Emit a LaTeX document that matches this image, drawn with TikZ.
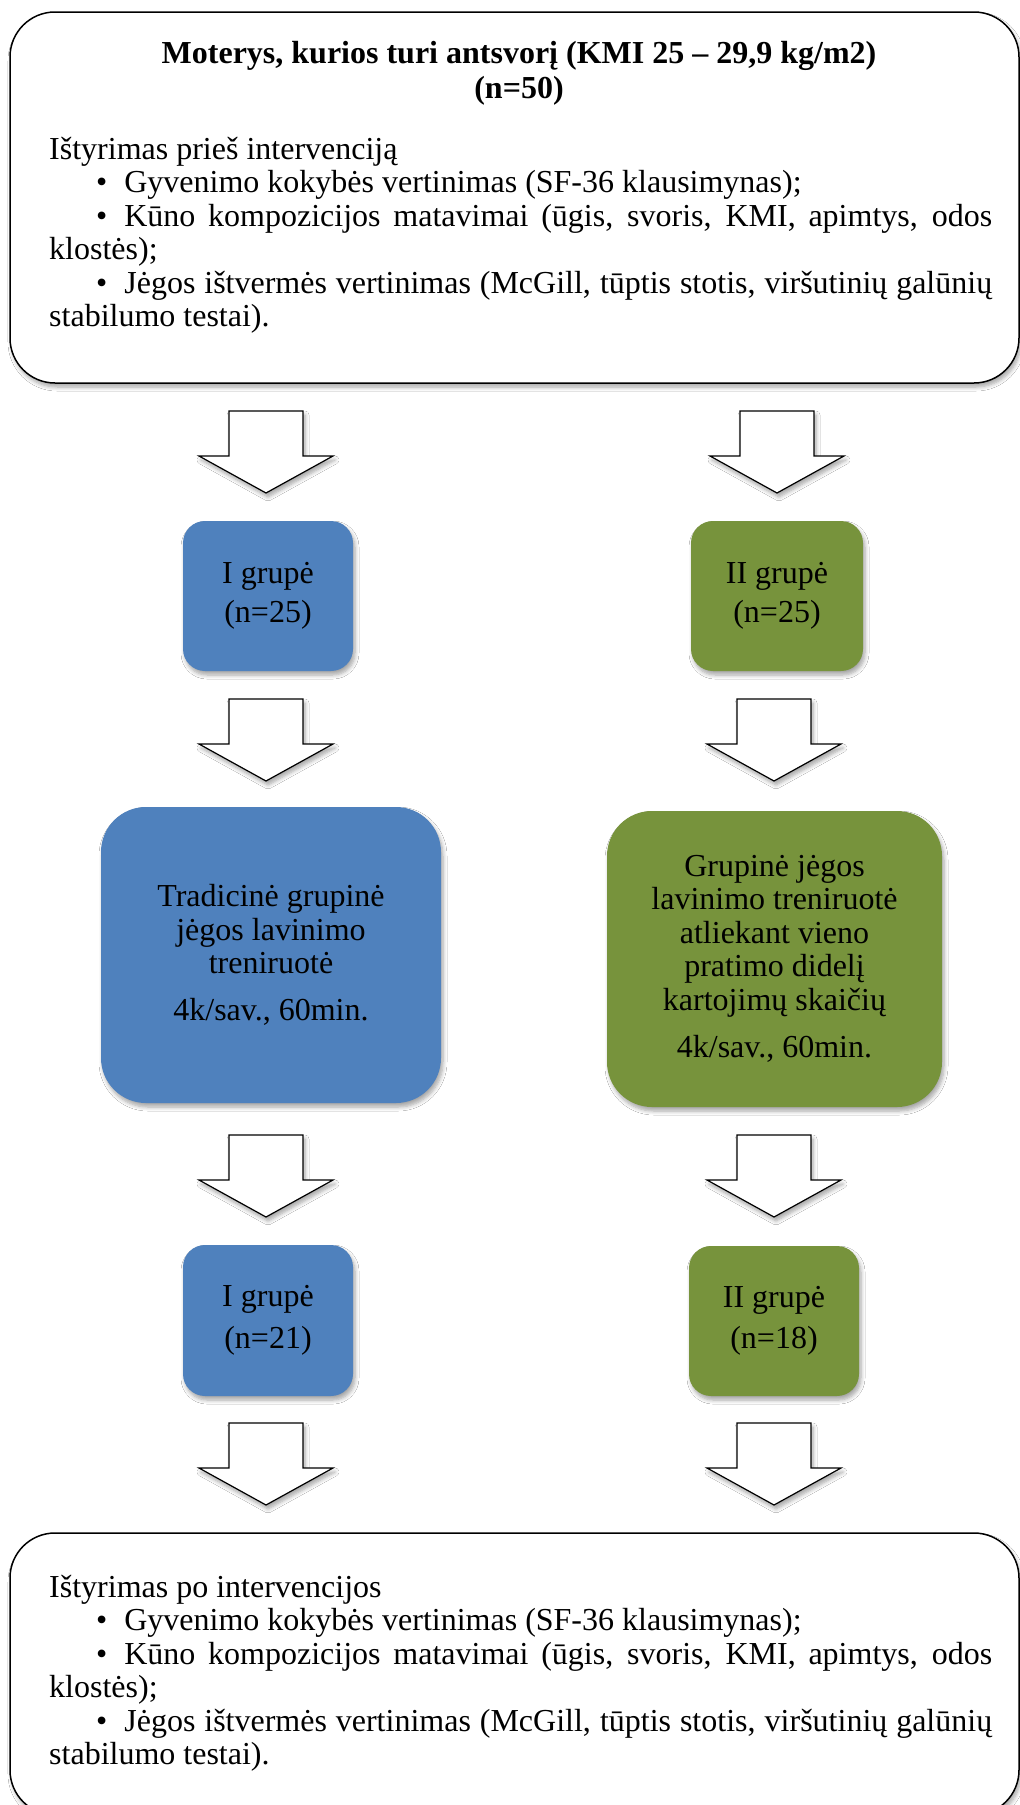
\documentclass[tikz,border=0pt]{standalone}
\usepackage{fontspec}
\setmainfont{Liberation Serif}
\usepackage{xcolor}
\usetikzlibrary{shadows.blur}
\definecolor{grpblue}{RGB}{79,129,189}
\definecolor{grpgreen}{RGB}{119,147,60}
\setlength{\parindent}{0pt}
\hyphenpenalty=10000
\newcommand{\bul}{\hspace*{47pt}\textbullet\hspace{17pt}}

\begin{document}
\begin{tikzpicture}[x=1pt,y=-1pt]
        \tikzset{every node/.style={font=\fontsize{32}{33.5}\selectfont, inner sep=0pt},
            softshadow/.style={blur shadow={shadow xshift=2pt, shadow yshift=-4pt,
                shadow blur radius=4pt, shadow blur steps=6, shadow opacity=35}},
            bigbox/.style={draw, line width=1.5pt, fill=white, rounded corners=45pt,
                minimum width=1009pt, softshadow},
            grpbox/.style={rounded corners=22pt, minimum width=170pt,
                minimum height=150pt, align=center, softshadow},
            trainbox/.style={rounded corners=45pt, minimum height=296pt,
                align=center, softshadow},
            bodytext/.style={text width=943pt, align=justify, anchor=north west},
            arrowbody/.style={draw, line width=1.2pt, fill=white, softshadow},
            blockarr/.pic={\path[arrowbody] (-37,0) -- (37,0) -- (37,45) -- (67,45)
                -- (0,82) -- (-67,45) -- (-37,45) -- cycle;}}
        \useasboundingbox (0,0) rectangle (1020,1805);
        \fill[white] (0,0) rectangle (1020,1805);

        \node[bigbox, minimum height=371pt] (pre) at (514.5,197.5) {};
        \node[align=center, font=\fontsize{32}{35}\selectfont\bfseries] (preTitle) at (519,73)
            {Moterys, kurios turi antsvorį (KMI 25 – 29,9 kg/m2)\\(n=50)};
        \node[bodytext] (preBody) at (49,137) {Ištyrimas prieš intervenciją\par
            \bul Gyvenimo kokybės vertinimas (SF-36 klausimynas);\par
            \bul Kūno kompozicijos matavimai (ūgis, svoris, KMI, apimtys, odos klostės);\par
            \bul Jėgos ištvermės vertinimas (McGill, tūptis stotis, viršutinių galūnių stabilumo testai).};

        \node[grpbox, fill=grpblue] (g1a) at (268,596) {I grupė\\[6pt](n=25)};
        \node[grpbox, fill=grpgreen, minimum width=172pt] (g2a) at (777,596) {II grupė\\[6pt](n=25)};

        \node[trainbox, fill=grpblue, minimum width=340pt] (t1) at (271,955)
            {Tradicinė grupinė\\jėgos lavinimo\\treniruotė\\[13pt]4k/sav., 60min.};
        \node[trainbox, fill=grpgreen, minimum width=335pt] (t2) at (774.5,959)
            {Grupinė jėgos\\lavinimo treniruotė\\atliekant vieno\\pratimo didelį\\kartojimų skaičių\\[14pt]4k/sav., 60min.};

        \node[grpbox, fill=grpblue, minimum height=151pt] (g1b) at (268,1320.5) {I grupė\\[8pt](n=21)};
        \node[grpbox, fill=grpgreen] (g2b) at (774,1321) {II grupė\\[8pt](n=18)};

        \node[bigbox, minimum height=282pt] (post) at (514.5,1674) {};
        \node[bodytext] (postBody) at (49,1575) {Ištyrimas po intervencijos\par
            \bul Gyvenimo kokybės vertinimas (SF-36 klausimynas);\par
            \bul Kūno kompozicijos matavimai (ūgis, svoris, KMI, apimtys, odos klostės);\par
            \bul Jėgos ištvermės vertinimas (McGill, tūptis stotis, viršutinių galūnių stabilumo testai).};

        \pic at (266,411) {blockarr};
        \pic at (777,411) {blockarr};
        \pic at (266,699) {blockarr};
        \pic at (774,699) {blockarr};
        \pic at (266,1135) {blockarr};
        \pic at (774,1135) {blockarr};
        \pic at (266,1423) {blockarr};
        \pic at (774,1423) {blockarr};
\end{tikzpicture}
\end{document}
